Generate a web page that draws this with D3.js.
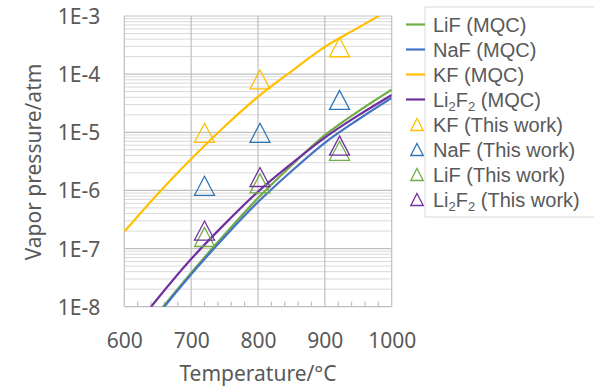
<!DOCTYPE html>
<html>
<head>
<meta charset="utf-8">
<script src="https://cdn.jsdelivr.net/npm/d3@7"></script>
<style>
  body { margin: 0; background: #fff; }
  text { font-family: "Noto Sans", sans-serif; fill: #595959; }
  .leg text { font-family: "Liberation Sans", Arial, sans-serif; }
</style>
</head>
<body>
<div class="chart"></div>
<script>
// MQC curves, temperature in °C, vapor pressure in atm
const tempsKF = [600, 650, 700, 750, 800, 850, 900, 950, 1000]
const kfMQC = [1.95e-7, 8.7e-7, 3.47e-6, 1.26e-5, 4.07e-5, 1.12e-4, 2.95e-4, 6.3e-4, 1.35e-3]

const temps = [625, 650, 700, 750, 800, 850, 900, 950, 1000]
const lifMQC = [3.2e-9, 7.6e-9, 3.8e-8, 1.74e-7, 7.4e-7, 2.69e-6, 8.9e-6, 2.29e-5, 5.4e-5]
const nafMQC = [2.8e-9, 7.1e-9, 3.6e-8, 1.58e-7, 6.3e-7, 2.14e-6, 6.6e-6, 1.66e-5, 3.9e-5]
const li2f2MQC = [6.0e-9, 1.38e-8, 6.6e-8, 2.63e-7, 9.5e-7, 2.88e-6, 8.1e-6, 1.95e-5, 4.37e-5]

// measured points (This work)
const tempsWork = [720, 803, 922]
const kfWork = [9.8e-6, 8.1e-5, 2.9e-4]
const nafWork = [1.2e-6, 9.8e-6, 3.6e-5]
const lifWork = [1.58e-7, 1.32e-6, 4.8e-6]
const li2f2Work = [2.04e-7, 1.7e-6, 5.9e-6]

const xTicks = [600, 700, 800, 900, 1000]
const yTicks = [1e-8, 1e-7, 1e-6, 1e-5, 1e-4, 1e-3]

const width = 594, height = 386
const plotL = 124.3, plotR = 391.7, plotT = 16, plotB = 306.7

const x = d3.scaleLinear().domain([600, 1000]).range([plotL, plotR])
const y = d3.scaleLog().domain([1e-8, 1e-3]).range([plotB, plotT])

const svg = d3.select('.chart')
  .append('svg')
  .attr('width', width)
  .attr('height', height)

svg.append('defs').append('clipPath')
  .attr('id', 'plot-clip')
  .append('rect')
  .attr('x', plotL).attr('y', plotT)
  .attr('width', plotR - plotL).attr('height', plotB - plotT)

// minor horizontal gridlines
const minor = []
for (let e = -8; e < -3; e++) {
  for (let m = 2; m <= 9; m++) minor.push(m * Math.pow(10, e))
}

const grid = svg.append('g')

grid.selectAll('.minor')
  .data(minor)
  .enter()
  .append('line')
  .attr('x1', plotL).attr('x2', plotR)
  .attr('y1', d => y(d)).attr('y2', d => y(d))
  .style('stroke', '#d9d9d9')
  .style('stroke-width', 1)

grid.selectAll('.hmajor')
  .data(yTicks)
  .enter()
  .append('line')
  .attr('x1', plotL).attr('x2', plotR)
  .attr('y1', d => y(d)).attr('y2', d => y(d))
  .style('stroke', '#bfbfbf')
  .style('stroke-width', 1.2)

grid.selectAll('.vmajor')
  .data(xTicks)
  .enter()
  .append('line')
  .attr('x1', d => x(d)).attr('x2', d => x(d))
  .attr('y1', plotT).attr('y2', plotB)
  .style('stroke', '#bfbfbf')
  .style('stroke-width', 1.2)

// small ticks along the bottom axis every 20°C
grid.selectAll('.xminor')
  .data(d3.range(620, 1000, 20).filter(d => d % 100 !== 0))
  .enter()
  .append('line')
  .attr('x1', d => x(d)).attr('x2', d => x(d))
  .attr('y1', plotB).attr('y2', plotB - 5)
  .style('stroke', '#bfbfbf')
  .style('stroke-width', 1.2)

// axes labels
const xAxis = svg.append('g')
  .attr('transform', `translate(0,${plotB})`)
  .call(d3.axisBottom(x).tickValues(xTicks).tickSize(0).tickPadding(0).tickFormat(d3.format('d')))
xAxis.select('.domain').remove()
xAxis.selectAll('text')
  .attr('y', 41)
  .attr('dy', null)
  .style('font-size', '21px')
  .style('font-family', '"Noto Sans", sans-serif')
  .style('fill', '#595959')

const yAxis = svg.append('g')
  .attr('transform', `translate(${plotL},0)`)
  .call(d3.axisLeft(y).tickValues(yTicks).tickSize(0).tickPadding(24)
    .tickFormat(d => '1E' + Math.round(Math.log10(d))))
yAxis.select('.domain').remove()
yAxis.selectAll('text')
  .attr('dy', '0.36em')
  .style('font-size', '21px')
  .style('font-family', '"Noto Sans", sans-serif')
  .style('fill', '#595959')

svg.append('text')
  .attr('x', 258).attr('y', 381)
  .attr('text-anchor', 'middle')
  .style('font-size', '21px')
  .text('Temperature/°C')

svg.append('text')
  .attr('transform', 'translate(41,162) rotate(-90)')
  .attr('text-anchor', 'middle')
  .style('font-size', '21px')
  .text('Vapor pressure/atm')

// curves
const lineSeries = [
  { name: 'LiF', t: temps, p: lifMQC, color: '#70ad47' },
  { name: 'NaF', t: temps, p: nafMQC, color: '#4472c4' },
  { name: 'KF', t: tempsKF, p: kfMQC, color: '#ffc000' },
  { name: 'Li2F2', t: temps, p: li2f2MQC, color: '#7030a0' }
]

const line = d3.line()
  .x(d => x(d[0]))
  .y(d => y(d[1]))
  .curve(d3.curveMonotoneX)

svg.append('g')
  .attr('clip-path', 'url(#plot-clip)')
  .selectAll('path')
  .data(lineSeries)
  .enter()
  .append('path')
  .attr('d', d => line(d.t.map((t, i) => [t, d.p[i]])))
  .style('fill', 'none')
  .style('stroke', d => d.color)
  .style('stroke-width', 2.2)

// triangles
const pointSeries = [
  { name: 'KF', p: kfWork, color: '#ffc000' },
  { name: 'NaF', p: nafWork, color: '#2e75b6' },
  { name: 'LiF', p: lifWork, color: '#70ad47' },
  { name: 'Li2F2', p: li2f2Work, color: '#7030a0' }
]

const tri = (cx, cy, w, h) =>
  `M${cx},${cy - h / 2}L${cx + w / 2},${cy + h / 2}L${cx - w / 2},${cy + h / 2}Z`

pointSeries.forEach(s => {
  svg.append('g')
    .selectAll('path')
    .data(tempsWork.map((t, i) => [t, s.p[i]]))
    .enter()
    .append('path')
    .attr('d', d => tri(x(d[0]), y(d[1]), 20, 19))
    .style('fill', 'none')
    .style('stroke', s.color)
    .style('stroke-width', 1.3)
})

// legend
const leg = svg.append('g').attr('class', 'leg')

leg.append('rect')
  .attr('x', 425).attr('y', 7)
  .attr('width', 200).attr('height', 210)
  .style('fill', '#fff')
  .style('stroke', '#d9d9d9')

const legendItems = [
  { label: ['LiF', ' (MQC)'], color: '#70ad47', kind: 'line' },
  { label: ['NaF', ' (MQC)'], color: '#4472c4', kind: 'line' },
  { label: ['KF', ' (MQC)'], color: '#ffc000', kind: 'line' },
  { label: ['Li2F2', ' (MQC)'], color: '#7030a0', kind: 'line' },
  { label: ['KF', ' (This work)'], color: '#ffc000', kind: 'tri' },
  { label: ['NaF', ' (This work)'], color: '#2e75b6', kind: 'tri' },
  { label: ['LiF', ' (This work)'], color: '#70ad47', kind: 'tri' },
  { label: ['Li2F2', ' (This work)'], color: '#7030a0', kind: 'tri' }
]

legendItems.forEach((d, i) => {
  const cy = 24.5 + i * 25
  if (d.kind === 'line') {
    leg.append('line')
      .attr('x1', 406).attr('x2', 425)
      .attr('y1', cy).attr('y2', cy)
      .style('stroke', d.color)
      .style('stroke-width', 2.2)
  } else {
    leg.append('path')
      .attr('d', tri(417, cy, 12.5, 12))
      .style('fill', 'none')
      .style('stroke', d.color)
      .style('stroke-width', 1.3)
  }
  const t = leg.append('text')
    .attr('x', 433).attr('y', cy + 7)
    .style('font-size', '20px')
  if (d.label[0] === 'Li2F2') {
    t.append('tspan').text('Li')
    t.append('tspan').attr('dy', 4).style('font-size', '13px').text('2')
    t.append('tspan').attr('dy', -4).text('F')
    t.append('tspan').attr('dy', 4).style('font-size', '13px').text('2')
    t.append('tspan').attr('dy', -4).text(d.label[1])
  } else {
    t.text(d.label[0] + d.label[1])
  }
})
</script>
</body>
</html>
